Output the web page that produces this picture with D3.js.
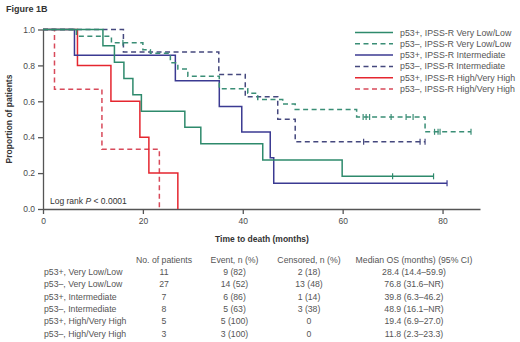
<!DOCTYPE html>
<html lang="en">
<head>
  <meta charset="UTF-8">
  <title>Figure 1B</title>
  <script src="https://d3js.org/d3.v7.min.js"></script>
  <style>
    body { margin: 0; background: #fff; }
    svg text { font-family: "Liberation Sans", Arial, sans-serif; fill: #4a4a4a; }
    .axis path, .axis line { stroke: #555; stroke-width: 1.3; }
    .axis text { font-size: 8.5px; fill: #4a4a4a; }
  </style>
</head>
<body>
  <svg width="520" height="342"></svg>
  <script>
    // step curves: [time (months), proportion surviving after the step]
    const posLowSteps = [[0, 1], [12, 0.909], [14.3, 0.818], [16.2, 0.727], [18, 0.636], [19.7, 0.545],
      [28.4, 0.455], [31.6, 0.364], [44, 0.273], [59.9, 0.182]];
    const posLowCensor = [70, 78.2];
    const posLowEnd = 78.2;

    const negLowSteps = [[0, 1], [6.7, 0.963], [13.7, 0.926], [20, 0.887], [21.5, 0.868], [25.5, 0.815],
      [27, 0.78], [29, 0.74], [35.3, 0.67], [41, 0.645], [43, 0.61], [48, 0.585], [50.5, 0.555],
      [62.8, 0.513], [76.5, 0.43]];
    const negLowCensor = [16, 64.1, 64.7, 65.4, 69.7, 72.7, 74.1, 78.4, 79.1, 79.5, 85.7];
    const negLowEnd = 85.7;

    const posIntSteps = [[0, 1], [6.3, 0.857], [26.5, 0.714], [35.3, 0.571], [39.8, 0.429], [45.5, 0.286], [46.2, 0.143]];
    const posIntCensor = [80.9];
    const posIntEnd = 80.9;

    const negIntSteps = [[0, 1], [16.1, 0.875], [35.2, 0.75], [40.5, 0.625], [47, 0.5], [50.5, 0.375]];
    const negIntCensor = [64.2, 75.5, 76.5];
    const negIntEnd = 76.5;

    const posHighSteps = [[0, 1], [6.9, 0.8], [13.6, 0.6], [19.4, 0.4], [21.2, 0.2], [27, 0]];
    const posHighCensor = [];
    const posHighEnd = 27;

    const negHighSteps = [[0, 1], [2.3, 0.667], [11.8, 0.333], [23.3, 0]];
    const negHighCensor = [];
    const negHighEnd = 23.3;

    const legendLabels = ["p53+, IPSS-R Very Low/Low", "p53–, IPSS-R Very Low/Low", "p53+, IPSS-R Intermediate",
      "p53–, IPSS-R Intermediate", "p53+, IPSS-R High/Very High", "p53–, IPSS-R High/Very High"];

    const xTicks = [0, 20, 40, 60, 80];
    const yTicks = [0, 0.2, 0.4, 0.6, 0.8, 1.0];

    // table
    const tableHeaders = ["No. of patients", "Event, n (%)", "Censored, n (%)", "Median OS (months) (95% CI)"];
    const rowLabels = ["p53+, Very Low/Low", "p53–, Very Low/Low", "p53+, Intermediate",
      "p53–, Intermediate", "p53+, High/Very High", "p53–, High/Very High"];
    const nPatients = ["11", "27", "7", "8", "5", "3"];
    const events = ["9 (82)", "14 (52)", "6 (86)", "5 (63)", "5 (100)", "3 (100)"];
    const censored = ["2 (18)", "13 (48)", "1 (14)", "3 (38)", "0", "0"];
    const medianOS = ["28.4 (14.4–59.9)", "76.8 (31.6–NR)", "39.8 (6.3–46.2)",
      "48.9 (16.1–NR)", "19.4 (6.9–27.0)", "11.8 (2.3–23.3)"];

    const series = [
      { steps: posLowSteps, censor: posLowCensor, end: posLowEnd, color: "#2e8a6c", dash: null },
      { steps: negLowSteps, censor: negLowCensor, end: negLowEnd, color: "#3a8e76", dash: "5,3.5" },
      { steps: posIntSteps, censor: posIntCensor, end: posIntEnd, color: "#3b3a92", dash: null },
      { steps: negIntSteps, censor: negIntCensor, end: negIntEnd, color: "#45487e", dash: "5,3.5" },
      { steps: posHighSteps, censor: posHighCensor, end: posHighEnd, color: "#e5262f", dash: null },
      { steps: negHighSteps, censor: negHighCensor, end: negHighEnd, color: "#d84a5a", dash: "5,3.5" }
    ];
    series.forEach((s, i) => s.label = legendLabels[i]);

    const svg = d3.select("svg");

    const x = d3.scaleLinear().domain([0, 87.5]).range([43, 480]);
    const y = d3.scaleLinear().domain([0, 1]).range([209, 29.5]);

    svg.append("text")
      .attr("x", 6).attr("y", 12)
      .style("font-size", "9px").style("font-weight", "bold").style("fill", "#333")
      .text("Figure 1B");

    // axes
    svg.append("g").attr("class", "axis")
      .attr("transform", "translate(43,0)")
      .call(d3.axisLeft(y).tickValues(yTicks).tickFormat(d3.format(".1f")).tickSize(5).tickSizeOuter(0).tickPadding(3));

    svg.append("g").attr("class", "axis")
      .attr("transform", "translate(0,209)")
      .call(d3.axisBottom(x).tickValues(xTicks).tickSize(5).tickSizeOuter(0).tickPadding(4));

    svg.append("text")
      .attr("transform", "translate(12,119) rotate(-90)")
      .attr("text-anchor", "middle")
      .style("font-size", "8.5px").style("font-weight", "bold").style("fill", "#333")
      .text("Proportion of patients");

    svg.append("text")
      .attr("x", 262).attr("y", 242)
      .attr("text-anchor", "middle")
      .style("font-size", "8.5px").style("font-weight", "bold").style("fill", "#333")
      .text("Time to death (months)");

    const logRank = svg.append("text")
      .attr("x", 50).attr("y", 204)
      .style("font-size", "8.5px").style("fill", "#333");
    logRank.append("tspan").text("Log rank ");
    logRank.append("tspan").style("font-style", "italic").text("P");
    logRank.append("tspan").text(" < 0.0001");

    // curves
    const line = d3.line()
      .x(d => x(d[0]))
      .y(d => y(d[1]))
      .curve(d3.curveStepAfter);

    // draw in reverse so the first series sits on top
    series.slice().reverse().forEach(s => {
      const last = s.steps[s.steps.length - 1];
      const pts = s.steps.concat(last[0] < s.end ? [[s.end, last[1]]] : []);
      svg.append("path")
        .datum(pts)
        .attr("fill", "none")
        .attr("stroke", s.color)
        .attr("stroke-width", 1.5)
        .attr("stroke-dasharray", s.dash)
        .attr("d", line);

      // censor ticks
      const levelAt = t => {
        let v = 1;
        s.steps.forEach(p => { if (p[0] <= t) v = p[1]; });
        return v;
      };
      svg.selectAll(null)
        .data(s.censor)
        .enter().append("line")
        .attr("x1", d => x(d)).attr("x2", d => x(d))
        .attr("y1", d => y(levelAt(d)) - 3)
        .attr("y2", d => y(levelAt(d)) + 3)
        .attr("stroke", s.color)
        .attr("stroke-width", 1.2);
    });

    // legend
    const legend = svg.append("g");
    series.forEach((s, i) => {
      const ly = 32.5 + i * 11.3;
      legend.append("line")
        .attr("x1", 355).attr("x2", 393)
        .attr("y1", ly).attr("y2", ly)
        .attr("stroke", s.color)
        .attr("stroke-width", 1.5)
        .attr("stroke-dasharray", s.dash);
      legend.append("text")
        .attr("x", 400).attr("y", ly + 3)
        .style("font-size", "8.8px").style("fill", "#555")
        .text(s.label);
    });

    // table
    const colX = [164, 234.5, 309, 414];
    const table = svg.append("g").style("font-size", "8.7px");
    tableHeaders.forEach((h, i) => {
      table.append("text")
        .attr("x", colX[i]).attr("y", 263)
        .attr("text-anchor", "middle")
        .style("fill", "#555")
        .text(h);
    });
    const columns = [nPatients, events, censored, medianOS];
    rowLabels.forEach((r, j) => {
      const ty = 275 + j * 12.3;
      table.append("text")
        .attr("x", 44).attr("y", ty)
        .style("fill", "#555")
        .text(r);
      columns.forEach((col, i) => {
        table.append("text")
          .attr("x", colX[i]).attr("y", ty)
          .attr("text-anchor", "middle")
          .style("fill", "#555")
          .text(col[j]);
      });
    });
  </script>
</body>
</html>
